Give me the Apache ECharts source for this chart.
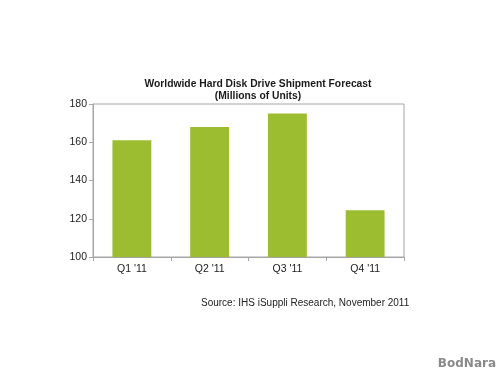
<!DOCTYPE html>
<html>
<head>
<meta charset="utf-8">
<script src="https://cdn.jsdelivr.net/npm/echarts@6/dist/echarts.min.js"></script>
<style>html,body{margin:0;padding:0;background:#fff;}#c{width:500px;height:375px;}</style>
</head>
<body>
<div id="c"></div>
<script>
const titleLines = ['Worldwide Hard Disk Drive Shipment Forecast', '(Millions of Units)'];
const categories = ["Q1 '11", "Q2 '11", "Q3 '11", "Q4 '11"];
const shipments = [161, 168, 175, 124.5];
const yTicks = [100, 120, 140, 160, 180];
const sourceText = 'Source: IHS iSuppli Research, November 2011';
const watermark = 'BodNara';

const chart = echarts.init(document.getElementById('c'), null, {renderer: 'canvas'});
chart.setOption({
  animation: false,
  backgroundColor: '#ffffff',
  title: {
    text: titleLines.join('\n'),
    left: 253, top: 73, textAlign: 'center',
    textStyle: {fontFamily: 'Liberation Sans, Arial, sans-serif', fontSize: 10.3, fontWeight: 'bold', color: '#1a1a1a', lineHeight: 12}
  },
  grid: {left: 93, right: 96, top: 104, bottom: 118, show: true, borderColor: '#a6a6a6', borderWidth: 1, containLabel: false},
  xAxis: {
    type: 'category', data: categories,
    axisLine: {lineStyle: {color: '#a6a6a6'}},
    axisTick: {show: true, length: 4, lineStyle: {color: '#a6a6a6'}},
    axisLabel: {color: '#222', fontFamily: 'Liberation Sans, Arial, sans-serif', fontSize: 10.5, margin: 7}
  },
  yAxis: {
    type: 'value', min: yTicks[0], max: yTicks[yTicks.length - 1], interval: 20,
    splitLine: {show: false},
    axisLine: {show: true, lineStyle: {color: '#a6a6a6'}},
    axisTick: {show: true, length: 4, lineStyle: {color: '#a6a6a6'}},
    axisLabel: {color: '#222', fontFamily: 'Liberation Sans, Arial, sans-serif', fontSize: 10.5, margin: 6}
  },
  series: [{
    type: 'bar', data: shipments, barWidth: '50%',
    itemStyle: {color: '#9bbd2f'}
  }],
  graphic: [
    {type: 'text', left: 201, top: 298, style: {text: sourceText, fill: '#222', font: '10px Liberation Sans, Arial, sans-serif'}},
    {type: 'text', right: 4, top: 358, style: {text: watermark, fill: '#8a8a8a', font: 'bold 12px DejaVu Sans, sans-serif'}}
  ]
});
</script>
</body>
</html>
